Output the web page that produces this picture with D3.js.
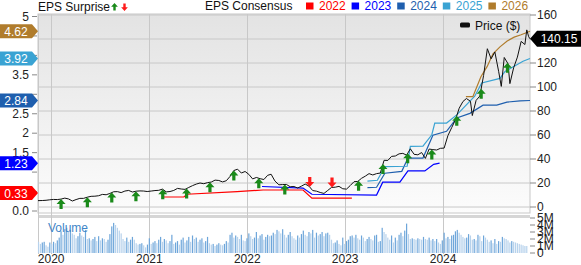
<!DOCTYPE html>
<html lang="en">
<head>
<meta charset="UTF-8">
<title>Price, Consensus and EPS Surprise</title>
<script src="https://cdn.jsdelivr.net/npm/d3@7"></script>
<style>
    body { margin: 0; background: #ffffff; }
    svg text { font-family: "Liberation Sans", Arial, sans-serif; }
</style>
</head>
<body>
<div id="chart"></div>
<script>
    // ---- data ----
    const priceDates = ["2019-11-13","2019-11-29","2019-12-13","2019-12-27","2020-01-10","2020-01-24","2020-02-07","2020-02-21",
        "2020-03-06","2020-03-20","2020-04-03","2020-04-17","2020-05-01","2020-05-15","2020-05-29","2020-06-12","2020-06-26",
        "2020-07-10","2020-07-24","2020-08-07","2020-08-21","2020-09-04","2020-09-18","2020-10-02","2020-10-16","2020-10-30",
        "2020-11-13","2020-11-27","2020-12-11","2020-12-24","2021-01-08","2021-01-22","2021-02-05","2021-02-19","2021-03-05",
        "2021-03-19","2021-04-02","2021-04-16","2021-04-30","2021-05-14","2021-05-28","2021-06-11","2021-06-25","2021-07-09",
        "2021-07-23","2021-08-06","2021-08-20","2021-09-03","2021-09-17","2021-10-01","2021-10-15","2021-10-29","2021-11-12",
        "2021-11-26","2021-12-10","2021-12-24","2022-01-07","2022-01-21","2022-02-04","2022-02-18","2022-03-04","2022-03-18",
        "2022-03-31","2022-04-14","2022-04-29","2022-05-13","2022-05-27","2022-06-10","2022-06-24","2022-07-08","2022-07-22",
        "2022-08-05","2022-08-19","2022-09-02","2022-09-16","2022-09-30","2022-10-14","2022-10-28","2022-11-11","2022-11-25",
        "2022-12-09","2022-12-23","2023-01-06","2023-01-20","2023-02-03","2023-02-17","2023-03-03","2023-03-17","2023-03-31",
        "2023-04-14","2023-04-28","2023-05-12","2023-05-26","2023-06-09","2023-06-23","2023-07-07","2023-07-21","2023-08-04",
        "2023-08-18","2023-09-01","2023-09-15","2023-09-29","2023-10-13","2023-10-27","2023-11-10","2023-11-24","2023-12-08",
        "2023-12-22","2024-01-05","2024-01-19","2024-02-02","2024-02-16","2024-03-01","2024-03-15","2024-03-28","2024-04-12",
        "2024-04-19","2024-05-03","2024-05-17","2024-05-31","2024-06-14","2024-06-28","2024-07-12","2024-07-26","2024-08-05",
        "2024-08-16","2024-08-30","2024-09-06","2024-09-20","2024-10-04","2024-10-18","2024-11-01","2024-11-08","2024-11-15",
        "2024-11-20"];
    const priceValues = [5.3,5.4,5.6,6.0,6.3,6.2,6.6,7.4,
        6.7,5.0,6.2,7.2,7.2,8.2,8.9,9.0,9.4,
        10.5,10.2,11.3,12.7,12.8,12.0,13.3,13.8,12.5,
        13.2,13.4,13.3,12.9,13.3,13.7,13.9,14.9,12.6,
        12.9,13.8,15.5,15.0,14.7,16.3,17.8,19.1,20.0,
        19.4,20.3,20.8,22.4,22.1,20.9,21.9,25.5,30.4,
        31.5,28.3,29.6,27.2,23.4,24.6,23.6,22.9,26.4,
        27.3,21.7,18.5,18.7,18.8,16.9,17.1,15.8,17.4,
        19.1,17.4,13.7,13.2,12.1,11.3,13.8,16.3,16.5,
        17.2,15.2,14.9,17.9,21.1,21.3,23.9,25.7,27.8,
        26.7,27.8,28.3,38.9,38.8,42.2,42.5,44.3,44.7,
        43.2,48.5,43.9,43.5,45.4,40.5,48.3,47.8,47.5,
        48.9,49.1,59.5,66.1,72.6,82.3,87.9,90.4,88.1,
        76.2,88.8,92.5,109.6,131.9,123.5,129.2,113.1,100.5,
        124.6,119.4,102.8,116.0,124.9,138.0,135.4,147.6,141.9,
        140.15];

    const consensusYears = ["2022", "2023", "2024", "2025", "2026"];
    const consensusColors = ["#ff0000", "#0000ff", "#1f5fae", "#3aa3d3", "#b07c2c"];
    const eps2022Dates = ["2021-02-22","2021-05-10","2021-05-21","2021-11-24","2022-03-01","2022-07-28","2022-08-30","2023-01-26"];
    const eps2022Values = [0.36,0.36,0.43,0.50,0.54,0.54,0.33,0.33];
    const eps2023Dates = ["2022-02-25","2022-07-28","2022-08-30","2023-04-28","2023-05-21","2023-07-24","2023-08-23","2023-10-25","2023-11-27","2023-12-19"];
    const eps2023Values = [0.63,0.59,0.43,0.41,0.74,0.74,1.03,1.03,1.20,1.23];
    const eps2024Dates = ["2023-03-25","2023-04-28","2023-05-29","2023-07-31","2023-08-23","2023-10-18","2023-11-24","2024-01-14",
        "2024-02-21","2024-04-10","2024-05-29","2024-07-19","2024-08-26","2024-10-14","2024-11-20"];
    const eps2024Values = [0.60,0.61,0.97,1.02,1.36,1.36,1.95,2.05,2.39,2.51,2.72,2.72,2.80,2.83,2.84];
    const eps2025Dates = ["2023-03-25","2023-05-01","2023-05-29","2023-08-20","2023-09-01","2023-10-18","2023-11-20","2023-12-01",
        "2024-01-14","2024-02-21","2024-04-28","2024-05-24","2024-07-31","2024-08-19","2024-10-02","2024-10-25","2024-11-20"];
    const eps2025Values = [0.77,0.79,1.14,1.15,1.66,1.67,1.96,2.26,2.26,2.47,2.95,3.29,3.41,3.59,3.76,3.85,3.92];
    const eps2026Dates = ["2024-03-26","2024-04-21","2024-05-21","2024-06-13","2024-07-05","2024-07-31","2024-08-27","2024-09-22",
        "2024-10-18","2024-11-20"];
    const eps2026Values = [2.94,2.94,3.45,3.71,4.04,4.22,4.37,4.47,4.53,4.62];

    const surpriseDates = ["2020-02-07","2020-05-15","2020-08-14","2020-11-12","2021-02-20","2021-05-20","2021-08-15","2021-11-12",
        "2022-02-13","2022-05-21","2022-08-22","2022-11-13","2023-02-20","2023-05-22","2023-08-22","2023-11-20","2024-02-21",
        "2024-05-22","2024-08-28"];
    const surpriseBeat = [1,1,1,1,1,1,1,1,1,1,0,0,1,1,1,1,1,1,1];

    // weekly volume, millions, first bar on volumeStart
    const volumeStart = "2019-11-15";
    const volumeValues = [1.6,1.3, 1.5,1.6,1.1,0.9, 1.5,1.3,1.6,1.4,1.8, 2.2,3.1,2.6,3.4, 3.6,3.0,3.3,2.8, 2.6,2.1,2.4,2.9,
        2.5,2.3,3.3,2.0,2.1, 1.8,2.0,2.3,1.7, 2.4,1.8,2.1,2.0,1.6, 1.9,2.7,3.8,4.3, 4.0,3.6,3.2,2.8, 2.0,1.7,2.2,1.6,1.9,
        2.3,1.9,1.4,1.2, 1.3,1.4,1.1,0.8,
        1.2,2.1,1.3,1.5,1.7, 1.4,1.9,2.3,1.6, 2.0,1.8,1.4,1.7, 2.6,1.3,1.5,1.7,1.2, 1.9,2.2,1.5,1.8, 2.3,1.6,2.5,2.0,
        2.2,1.6,1.9,2.1,1.5, 1.7,2.3,1.4,1.2, 1.3,1.0,1.2,1.4, 1.2,1.1,1.3,1.7,1.5, 2.6,2.9,2.2,2.5, 2.3,2.0,2.6,1.8,1.7,
        2.1,2.8,2.4,2.0, 2.2,3.0,2.1,2.5, 2.7,1.9,2.3,2.6,2.4, 2.5,2.9,2.7,3.3, 3.1,2.8,3.4,2.6, 2.2,2.6,3.0,2.4,2.1,
        1.9,2.5,2.2,2.7, 3.2,2.6,2.4,3.0, 2.8,3.3,2.2,2.9,2.5, 2.7,3.0,2.4,2.8, 2.9,2.6,1.9,1.4, 1.5,1.8,1.3,1.1,2.2,
        1.3,1.7,1.9,2.4, 2.5,2.2,2.6,2.1, 1.9,2.5,2.2,1.7,2.0, 2.3,2.0,1.8,2.5, 2.6,1.6,1.7,3.6, 3.0,2.7,2.2,1.9,2.5,
        1.5,2.2,1.8,2.6, 2.9,2.4,3.2,4.2,2.7, 2.0,2.1,2.0,1.9, 2.1,2.0,1.9,2.3, 2.0,1.9,2.2,1.8,2.0, 1.7,2.0,1.5,1.3,
        1.8,2.9,2.1,2.3, 2.0,2.5,2.6,3.1, 3.3,2.9,2.6,2.3,2.1, 2.2,2.7,2.5,1.9, 2.0,1.8,2.6,2.4,1.7, 2.5,2.2,1.9,1.6,
        1.8,1.4,2.0,1.3, 1.7,1.6,2.3,2.1,2.0, 1.8,1.5,1.7,1.6, 1.5,1.4,1.3,1.2, 1.1,1.0,1.0];

    const priceTicks = [0, 20, 40, 60, 80, 100, 120, 140, 160];
    const epsTicks = [0, 0.5, 1, 1.5, 2, 2.5, 3, 3.5, 4, 4.5, 5];
    const volumeTicks = [0, 1, 2, 3, 4, 5];
    const volumeTickLabels = ["0", "1M", "2M", "3M", "4M", "5M"];
    const yearTicks = ["2020-01-01", "2021-01-01", "2022-01-01", "2023-01-01", "2024-01-01"];

    // ---- layout ----
    const W = 581, H = 265;
    const left = 38, right = 530;
    const priceTop = 14, priceBottom = 213;
    const volTop = 218, volBottom = 254;
    const parse = d3.timeParse("%Y-%m-%d");

    let svg = d3.select("#chart")
        .append("svg")
        .attr("width", W)
        .attr("height", H)
        .style("background-color", "#ffffff");

    let x = d3.scaleTime()
        .domain([parse("2019-11-13"), parse("2024-11-20")])
        .range([left, right]);
    let yPrice = d3.scaleLinear().domain([0, 160]).range([207, 15]);
    let yEps = d3.scaleLinear().domain([0, 5]).range([211, 16.5]);
    let yVol = d3.scaleLinear().domain([0, 5]).range([volBottom - 1, volTop]);

    // panel backgrounds
    let grad = svg.append("defs").append("linearGradient")
        .attr("id", "bg").attr("x1", 0).attr("y1", 0).attr("x2", 0).attr("y2", 1);
    grad.append("stop").attr("offset", "0%").attr("stop-color", "#e3e3e3");
    grad.append("stop").attr("offset", "100%").attr("stop-color", "#fcfcfc");

    svg.append("rect")
        .attr("x", left).attr("y", priceTop)
        .attr("width", right - left).attr("height", priceBottom - priceTop)
        .attr("fill", "url(#bg)")
        .attr("stroke", "#c8c8c8");

    svg.append("rect")
        .attr("x", left).attr("y", volTop)
        .attr("width", right - left).attr("height", volBottom - volTop)
        .attr("fill", "#ffffff");

    svg.append("line")
        .attr("x1", left).attr("x2", right)
        .attr("y1", 216.5).attr("y2", 216.5)
        .attr("stroke", "#d6d6d6").attr("stroke-width", 3);

    // grid
    svg.append("g").selectAll("line")
        .data(priceTicks)
        .join("line")
        .attr("x1", left).attr("x2", right)
        .attr("y1", d => yPrice(d)).attr("y2", d => yPrice(d))
        .attr("stroke", "#c8c8c8");

    svg.append("g").selectAll("line")
        .data(yearTicks)
        .join("line")
        .attr("x1", d => Math.round(x(parse(d))) + 0.5).attr("x2", d => Math.round(x(parse(d))) + 0.5)
        .attr("y1", priceTop).attr("y2", volBottom)
        .attr("stroke", "#c8c8c8");

    svg.append("line")
        .attr("x1", left + 0.5).attr("x2", left + 0.5)
        .attr("y1", priceTop).attr("y2", volBottom)
        .attr("stroke", "#c8c8c8");

    // volume bars
    let vStart = parse(volumeStart);
    svg.append("g").selectAll("rect")
        .data(volumeValues)
        .join("rect")
        .attr("x", (d, i) => x(d3.timeWeek.offset(vStart, i)) - 0.6)
        .attr("width", 1.2)
        .attr("y", d => yVol(d))
        .attr("height", d => yVol(0) - yVol(d))
        .attr("fill", (d, i) => i > 0 && d > volumeValues[i - 1] ? "#6ea6da" : "#b7d2ec");

    svg.append("text")
        .attr("x", 48).attr("y", 232)
        .attr("font-size", 12)
        .attr("fill", "#3f86c8")
        .text("Volume");

    // consensus lines
    const epsSeries = [
        [eps2022Dates, eps2022Values],
        [eps2023Dates, eps2023Values],
        [eps2024Dates, eps2024Values],
        [eps2025Dates, eps2025Values],
        [eps2026Dates, eps2026Values]
    ];
    let epsLine = d3.line()
        .x(d => x(d[0]))
        .y(d => yEps(d[1]));
    epsSeries.forEach(function (s, k) {
        let pts = s[0].map((d, i) => [parse(d), s[1][i]]);
        svg.append("path")
            .datum(pts)
            .attr("d", epsLine)
            .attr("fill", "none")
            .style("stroke", consensusColors[k])
            .style("stroke-width", "1.2px");
    });

    // price line
    let priceData = priceDates.map((d, i) => ({date: parse(d), value: priceValues[i]}));
    let line = d3.line()
        .x(d => x(d.date))
        .y(d => yPrice(d.value));
    svg.append("path")
        .datum(priceData)
        .attr("d", line)
        .attr("fill", "none")
        .style("stroke", "#111111")
        .style("stroke-width", "1px");

    // surprise arrows sit on the price line
    let bis = d3.bisector(d => d.date).left;
    function priceAt(dt) {
        let i = bis(priceData, dt);
        if (i <= 0) return priceData[0].value;
        let a = priceData[i - 1], b = priceData[i];
        let t = (dt - a.date) / (b.date - a.date);
        return a.value + t * (b.value - a.value);
    }
    const upArrow = "M0,0L4.5,5L1.6,5L1.6,10L-1.6,10L-1.6,5L-4.5,5Z";
    const downArrow = "M0,0L4.5,-5L1.6,-5L1.6,-10L-1.6,-10L-1.6,-5L-4.5,-5Z";
    svg.append("g").selectAll("path")
        .data(surpriseDates)
        .join("path")
        .attr("transform", d => "translate(" + x(parse(d)) + "," + yPrice(priceAt(parse(d))) + ")")
        .attr("d", (d, i) => surpriseBeat[i] ? upArrow : downArrow)
        .attr("fill", (d, i) => surpriseBeat[i] ? "#1a8a1a" : "#ff1a1a");

    // tags hide the tick labels underneath them
    const lastEps = epsSeries.map(s => s[1][s[1].length - 1]);
    const tagY = lastEps.map(v => Math.min(yEps(v), 193));
    let lastPrice = priceValues[priceValues.length - 1];
    const underTag = (y, list) => list.some(t => Math.abs(t - y) < 9);

    // left axis (EPS)
    let gl = svg.append("g");
    gl.selectAll("line")
        .data(epsTicks)
        .join("line")
        .attr("x1", 32).attr("x2", 37)
        .attr("y1", d => yEps(d)).attr("y2", d => yEps(d))
        .attr("stroke", "#888888");
    gl.selectAll("text")
        .data(epsTicks.filter(d => !underTag(yEps(d), tagY)))
        .join("text")
        .attr("x", 29).attr("y", d => yEps(d) + 4)
        .attr("text-anchor", "end")
        .attr("font-size", 12)
        .attr("fill", "#222222")
        .text(d => d === 0 ? "0.0" : String(d));

    // right axis (price)
    let gr = svg.append("g");
    gr.selectAll("line")
        .data(priceTicks)
        .join("line")
        .attr("x1", right).attr("x2", right + 6)
        .attr("y1", d => yPrice(d)).attr("y2", d => yPrice(d))
        .attr("stroke", "#888888");
    gr.selectAll("text")
        .data(priceTicks.filter(d => !underTag(yPrice(d), [yPrice(lastPrice)])))
        .join("text")
        .attr("x", 537).attr("y", d => yPrice(d) + 4)
        .attr("font-size", 12)
        .attr("fill", "#222222")
        .text(d => d);

    // right axis (volume)
    let gv = svg.append("g");
    gv.selectAll("line")
        .data(volumeTicks)
        .join("line")
        .attr("x1", right).attr("x2", right + 5)
        .attr("y1", d => yVol(d)).attr("y2", d => yVol(d))
        .attr("stroke", "#888888");
    gv.selectAll("text")
        .data(volumeTicks)
        .join("text")
        .attr("x", 537).attr("y", d => yVol(d) + 4)
        .attr("font-size", 12)
        .attr("fill", "#222222")
        .text((d, i) => volumeTickLabels[i]);

    // year labels
    svg.append("g").selectAll("text")
        .data(yearTicks)
        .join("text")
        .attr("x", d => x(parse(d)))
        .attr("y", 263)
        .attr("text-anchor", "middle")
        .attr("font-size", 12)
        .attr("fill", "#222222")
        .text(d => d.slice(0, 4));

    // latest consensus tags on the left
    let tags = svg.append("g").selectAll("g")
        .data(lastEps)
        .join("g")
        .attr("transform", (d, i) => "translate(0," + tagY[i] + ")");
    tags.append("path")
        .attr("d", "M0,-7H32L38,0L32,7H0Z")
        .attr("fill", (d, i) => consensusColors[i]);
    tags.append("text")
        .attr("x", 16).attr("y", 4.5)
        .attr("text-anchor", "middle")
        .attr("font-size", 12)
        .attr("fill", "#ffffff")
        .text(d => d.toFixed(2));

    // latest price tag on the right
    let pt = svg.append("g")
        .attr("transform", "translate(0," + yPrice(lastPrice) + ")");
    pt.append("path")
        .attr("d", "M530,0L537,-8H581V8H537Z")
        .attr("fill", "#000000");
    pt.append("text")
        .attr("x", 559).attr("y", 4.5)
        .attr("text-anchor", "middle")
        .attr("font-size", 12)
        .attr("fill", "#ffffff")
        .text(lastPrice.toFixed(2));

    // legends
    svg.append("text")
        .attr("x", 38).attr("y", 11)
        .attr("font-size", 12)
        .attr("fill", "#111111")
        .text("EPS Surprise");
    svg.append("path")
        .attr("transform", "translate(114.5,3)scale(0.75)")
        .attr("d", upArrow)
        .attr("fill", "#1a8a1a");
    svg.append("path")
        .attr("transform", "translate(124.5,11)scale(0.75)")
        .attr("d", downArrow)
        .attr("fill", "#ff1a1a");

    svg.append("text")
        .attr("x", 205).attr("y", 9.5)
        .attr("font-size", 12)
        .attr("fill", "#111111")
        .text("EPS Consensus");

    let lg = svg.append("g").selectAll("g")
        .data(consensusYears)
        .join("g")
        .attr("transform", (d, i) => "translate(" + (306 + i * 45.6) + ",0)");
    lg.append("rect")
        .attr("x", 0).attr("y", 2.5)
        .attr("width", 7.5).attr("height", 7)
        .attr("fill", (d, i) => consensusColors[i]);
    lg.append("text")
        .attr("x", 13).attr("y", 9.5)
        .attr("font-size", 12)
        .attr("fill", (d, i) => consensusColors[i])
        .text(d => d);

    svg.append("rect")
        .attr("x", 460).attr("y", 22.5)
        .attr("width", 10).attr("height", 5)
        .attr("rx", 1.5)
        .attr("fill", "#111111");
    svg.append("text")
        .attr("x", 475).attr("y", 29.5)
        .attr("font-size", 12)
        .attr("fill", "#111111")
        .text("Price ($)");
</script>
</body>
</html>
